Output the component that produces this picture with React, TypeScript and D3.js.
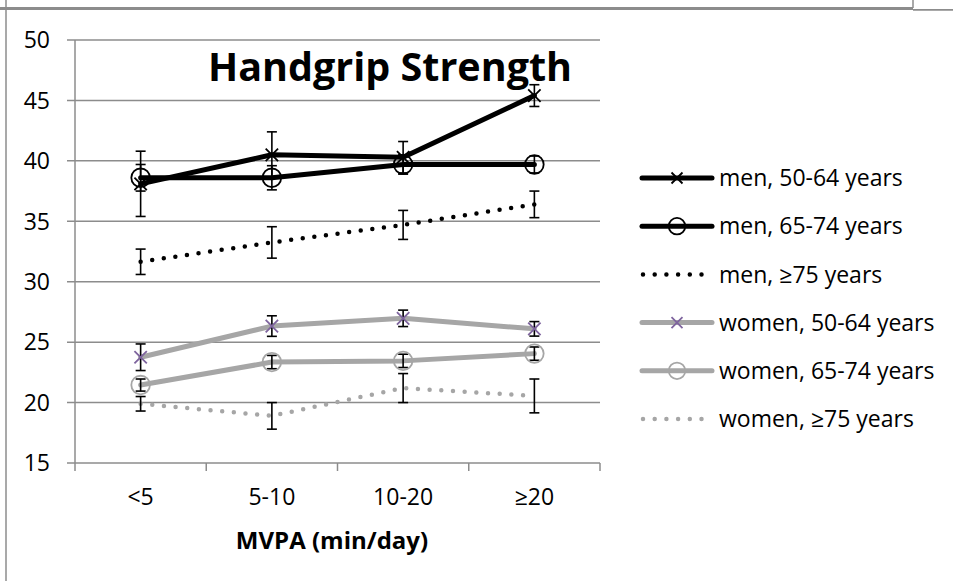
import { useEffect, useRef } from 'react'
import * as d3 from 'd3'

const categories = ['<5', '5-10', '10-20', '≥20']
const yTicks = [15, 20, 25, 30, 35, 40, 45, 50]
const seriesNames = [
  'men, 50-64 years',
  'men, 65-74 years',
  'men, ≥75 years',
  'women, 50-64 years',
  'women, 65-74 years',
  'women, ≥75 years',
]

const men5064 = [38.1, 40.5, 40.3, 45.4]
const men5064Err = [2.7, 1.9, 1.3, 0.9]
const men6574 = [38.6, 38.6, 39.7, 39.7]
const men6574Err = [1.1, 1.0, 0.8, 0.7]
const men75 = [31.65, 33.25, 34.7, 36.4]
const men75Err = [1.05, 1.3, 1.2, 1.1]
const women5064 = [23.75, 26.33, 26.97, 26.1]
const women5064Err = [1.1, 0.85, 0.68, 0.6]
const women6574 = [21.45, 23.35, 23.45, 24.05]
const women6574Err = [0.5, 0.55, 0.55, 0.55]
const women75 = [19.9, 18.9, 21.2, 20.55]
const women75Err = [0.6, 1.1, 1.2, 1.4]

const seriesValues = [men5064, men6574, men75, women5064, women6574, women75]
const seriesErrors = [men5064Err, men6574Err, men75Err, women5064Err, women6574Err, women75Err]

const GRID = '#8C8C8C'
const GREY = '#A6A6A6'
const PURPLE = '#7E649E'

// look of each series, same order as seriesNames
const styles = [
  { color: '#000', width: 5, dash: null, marker: 'x', markerColor: '#000' },
  { color: '#000', width: 5, dash: null, marker: 'o', markerColor: '#000' },
  { color: '#000', width: 4.5, dash: '0 11.7', marker: null, markerColor: null },
  { color: GREY, width: 5, dash: null, marker: 'x', markerColor: PURPLE },
  { color: GREY, width: 5, dash: null, marker: 'o', markerColor: GREY },
  { color: GREY, width: 4.5, dash: '0 11.7', marker: null, markerColor: null },
]

const FONT = '"Open Sans", sans-serif'

export default function App() {
  const svgRef = useRef<SVGSVGElement>(null)

  useEffect(() => {
    if (!svgRef.current) return
    const svg = d3.select(svgRef.current)
    svg.selectAll('*').remove()

    const W = 953
    const H = 581
    const plot = { left: 75, right: 600, top: 40, bottom: 463 }

    svg.attr('width', W).attr('height', H).attr('viewBox', `0 0 ${W} ${H}`)
    svg.append('rect').attr('width', W).attr('height', H).attr('fill', '#fff')

    // outer frame bits
    svg.append('line').attr('x1', 6).attr('x2', 6).attr('y1', 0).attr('y2', H)
      .attr('stroke', GRID).attr('stroke-width', 1.5)
    svg.append('line').attr('x1', 0).attr('x2', 913).attr('y1', 8.5).attr('y2', 8.5)
      .attr('stroke', GRID).attr('stroke-width', 3)
    svg.append('line').attr('x1', 913).attr('x2', 913).attr('y1', 0).attr('y2', 8)
      .attr('stroke', GRID).attr('stroke-width', 1.5)
    svg.append('line').attr('x1', 913).attr('x2', W).attr('y1', 9.8).attr('y2', 9.8)
      .attr('stroke', GRID).attr('stroke-width', 1.8)

    const x = d3.scaleBand().domain(categories).range([plot.left, plot.right])
    const y = d3.scaleLinear().domain([15, 50]).range([plot.bottom, plot.top])
    const cx = (c: string) => (x(c) as number) + x.bandwidth() / 2

    // gridlines
    svg.append('g').selectAll('line').data(yTicks).join('line')
      .attr('x1', plot.left - 8).attr('x2', plot.right)
      .attr('y1', (d) => y(d)).attr('y2', (d) => y(d))
      .attr('stroke', GRID).attr('stroke-width', 1.5)

    // y axis line
    svg.append('line').attr('x1', plot.left).attr('x2', plot.left)
      .attr('y1', plot.top).attr('y2', plot.bottom)
      .attr('stroke', GRID).attr('stroke-width', 1.5)

    // x axis tick marks at band edges
    const edges = categories.map((c) => x(c) as number).concat([plot.right])
    svg.append('g').selectAll('line').data(edges).join('line')
      .attr('x1', (d) => d).attr('x2', (d) => d)
      .attr('y1', plot.bottom).attr('y2', plot.bottom + 8)
      .attr('stroke', GRID).attr('stroke-width', 1.5)

    // y tick labels
    svg.append('g').selectAll('text').data(yTicks).join('text')
      .attr('x', 50).attr('y', (d) => y(d)).attr('dy', '0.36em')
      .attr('text-anchor', 'end')
      .attr('font-family', FONT).attr('font-size', 23).attr('fill', '#000')
      .text((d) => d)

    // x tick labels
    svg.append('g').selectAll('text').data(categories).join('text')
      .attr('x', (d) => cx(d)).attr('y', 505)
      .attr('text-anchor', 'middle')
      .attr('font-family', FONT).attr('font-size', 23).attr('fill', '#000')
      .text((d) => d)

    svg.append('text')
      .attr('x', 332).attr('y', 549)
      .attr('text-anchor', 'middle')
      .attr('font-family', FONT).attr('font-size', 24).attr('font-weight', 700)
      .text('MVPA (min/day)')

    svg.append('text')
      .attr('x', 390).attr('y', 81)
      .attr('text-anchor', 'middle')
      .attr('font-family', FONT).attr('font-size', 39.5).attr('font-weight', 700)
      .text('Handgrip Strength')

    const line = d3.line<number>()
      .x((_, i) => cx(categories[i]))
      .y((d) => y(d))

    // series lines
    seriesValues.forEach((vals, s) => {
      const st = styles[s]
      svg.append('path')
        .datum(vals)
        .attr('d', line)
        .attr('fill', 'none')
        .attr('stroke', st.color)
        .attr('stroke-width', st.width)
        .attr('stroke-linecap', 'round')
        .attr('stroke-linejoin', 'round')
        .attr('stroke-dasharray', st.dash)
    })

    // error bars
    seriesValues.forEach((vals, s) => {
      const errs = seriesErrors[s]
      const g = svg.append('g').attr('stroke', '#000').attr('stroke-width', 1.6)
      vals.forEach((v, i) => {
        const px = cx(categories[i])
        const top = y(v + errs[i])
        const bot = y(v - errs[i])
        g.append('line').attr('x1', px).attr('x2', px).attr('y1', top).attr('y2', bot)
        g.append('line').attr('x1', px - 5).attr('x2', px + 5).attr('y1', top).attr('y2', top)
        g.append('line').attr('x1', px - 5).attr('x2', px + 5).attr('y1', bot).attr('y2', bot)
      })
    })

    const drawMarker = (g: any, kind: string | null, color: string | null, px: number, py: number, size: number) => {
      if (!kind || !color) return
      if (kind === 'x') {
        g.append('path')
          .attr('d', `M${px - size},${py - size}L${px + size},${py + size}M${px - size},${py + size}L${px + size},${py - size}`)
          .attr('stroke', color).attr('stroke-width', 1.8).attr('fill', 'none')
      } else {
        g.append('circle').attr('cx', px).attr('cy', py).attr('r', size * 1.5)
          .attr('stroke', color).attr('stroke-width', 1.8).attr('fill', 'none')
      }
    }

    // markers
    seriesValues.forEach((vals, s) => {
      const st = styles[s]
      const g = svg.append('g')
      vals.forEach((v, i) => drawMarker(g, st.marker, st.markerColor, cx(categories[i]), y(v), 6.2))
    })

    // legend
    const legend = svg.append('g')
    seriesNames.forEach((name, s) => {
      const st = styles[s]
      const ly = 178 + s * 48.2
      legend.append('line')
        .attr('x1', st.dash ? 643 : 642).attr('x2', st.dash ? 703 : 712)
        .attr('y1', ly).attr('y2', ly)
        .attr('stroke', st.color)
        .attr('stroke-width', st.width)
        .attr('stroke-linecap', 'round')
        .attr('stroke-dasharray', st.dash)
      drawMarker(legend, st.marker, st.markerColor, 677, ly, 5.5)
      legend.append('text')
        .attr('x', 719).attr('y', ly).attr('dy', '0.36em')
        .attr('font-family', FONT).attr('font-size', 23).attr('fill', '#000')
        .text(name)
    })
  }, [])

  return (
    <svg
      ref={svgRef}
      style={{ position: 'absolute', left: 0, top: 0, display: 'block' }}
    />
  )
}
